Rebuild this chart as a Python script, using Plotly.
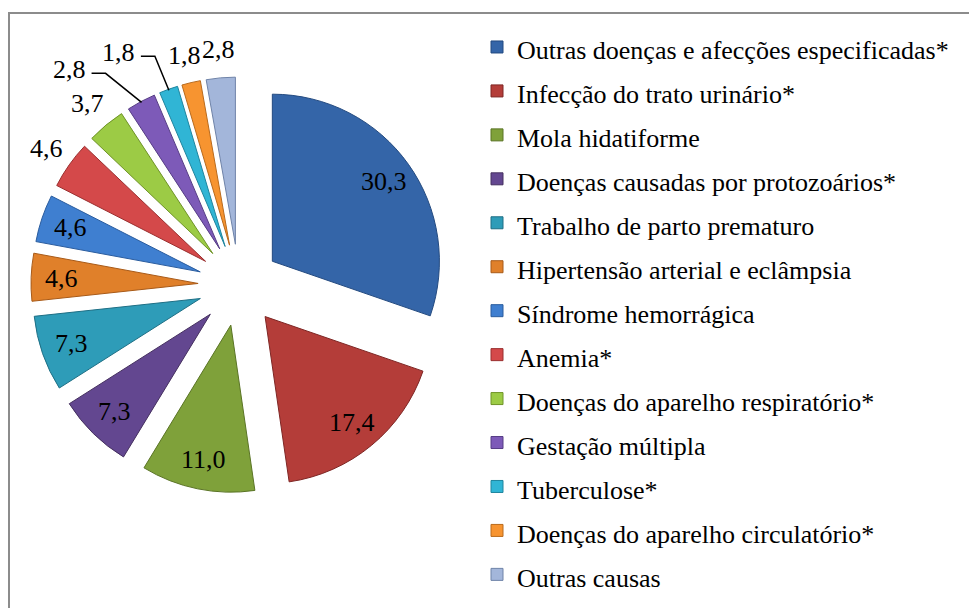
import math
import plotly.graph_objects as go

categories = [
    "Outras doenças e afecções especificadas*",
    "Infecção do trato urinário*",
    "Mola hidatiforme",
    "Doenças causadas por protozoários*",
    "Trabalho de parto prematuro",
    "Hipertensão arterial e eclâmpsia",
    "Síndrome hemorrágica",
    "Anemia*",
    "Doenças do aparelho respiratório*",
    "Gestação múltipla",
    "Tuberculose*",
    "Doenças do aparelho circulatório*",
    "Outras causas",
]
values = [30.3, 17.4, 11.0, 7.3, 7.3, 4.6, 4.6, 4.6, 3.7, 2.8, 1.8, 1.8, 2.8]
colors = ["#3465A8", "#B43D39", "#7FA13A", "#634790", "#2E9CB8", "#E0802A",
          "#3F7FD0", "#D4494A", "#9CCB45", "#7D5AB8", "#30B5D5", "#F79430", "#A3B6DA"]
edge_colors = ["#234A80", "#7E2624", "#5A7425", "#45305F", "#1E6F85", "#A85A18",
               "#2A5C9E", "#9A2E2E", "#6F9428", "#563C85", "#1F859E", "#B96A1C", "#6F83A8"]
# where each slice's value label goes: inside the slice, outside, or outside with a leader line
label_mode = ["in"] * 7 + ["out"] * 2 + ["leader"] * 2 + ["out"] * 2

W, H = 969, 600
SERIF = "Liberation Serif"
PULL = 0.245
CX, CY, HALF = 231, 277, 208  # pie centre / half-size of the pie domain (pixels)
R = HALF / (1 + PULL)

def fmt(v):
    return ("%.1f" % v).replace(".", ",")

legend_labels = ['<span style="font-size:26px">%s</span>' % c for c in categories]

fig = go.Figure(go.Pie(
    labels=legend_labels,
    values=values,
    sort=False,
    direction="clockwise",
    rotation=0,
    pull=PULL,
    marker=dict(colors=colors, line=dict(color=edge_colors, width=1)),
    textinfo="none",
    domain=dict(x=[(CX - HALF) / W, (CX + HALF) / W],
                y=[1 - (CY + HALF) / H, 1 - (CY - HALF) / H]),
    hoverinfo="label+value",
    automargin=False,
))

# value labels placed along each slice's bisector
total = sum(values)
annotations = []
shapes = [dict(type="rect", xref="paper", yref="paper",
               x0=1 / W, x1=1.02, y0=-0.02, y1=1 - 5 / H,
               line=dict(color="#8C8C8C", width=2))]
leader_offsets = {9: (-72, -33), 10: (-50, -38)}
cum = 0.0
for i, (v, m) in enumerate(zip(values, label_mode)):
    mid = (cum + v / 2) / total * 2 * math.pi
    cum += v
    dx, dy = math.sin(mid), -math.cos(mid)
    if m == "in":
        t = R * PULL + R * 0.82
    elif m == "out":
        t = R * (1 + PULL) + 28
    else:
        t = R * (1 + PULL) - 1
    px, py = CX + t * dx, CY + t * dy
    if m == "leader":
        ox, oy = leader_offsets[i]
        tipx, tipy = px, py
        px, py = tipx + ox, tipy + oy
        path = "M %f,%f H %f L %f,%f" % (
            (px + 22) / W, 1 - (py + 4) / H, (px + 36) / W, tipx / W, 1 - tipy / H)
        shapes.append(dict(type="path", xref="paper", yref="paper", path=path,
                           line=dict(color="black", width=1.5)))
    annotations.append(dict(x=px / W, y=1 - py / H, xref="paper", yref="paper",
                            xanchor="center", yanchor="middle", text=fmt(v),
                            font=dict(family=SERIF, size=26, color="black"),
                            showarrow=False))

fig.update_layout(
    width=W, height=H,
    margin=dict(l=0, r=0, t=0, b=0),
    paper_bgcolor="white",
    font=dict(family=SERIF, color="black"),
    legend=dict(
        x=469 / W, y=1 - 12 / H, xanchor="left", yanchor="top",
        font=dict(family=SERIF, size=31.5, color="black"),
        bgcolor="rgba(0,0,0,0)",
    ),
    annotations=annotations,
    shapes=shapes,
)

fig.write_html("out.html")
